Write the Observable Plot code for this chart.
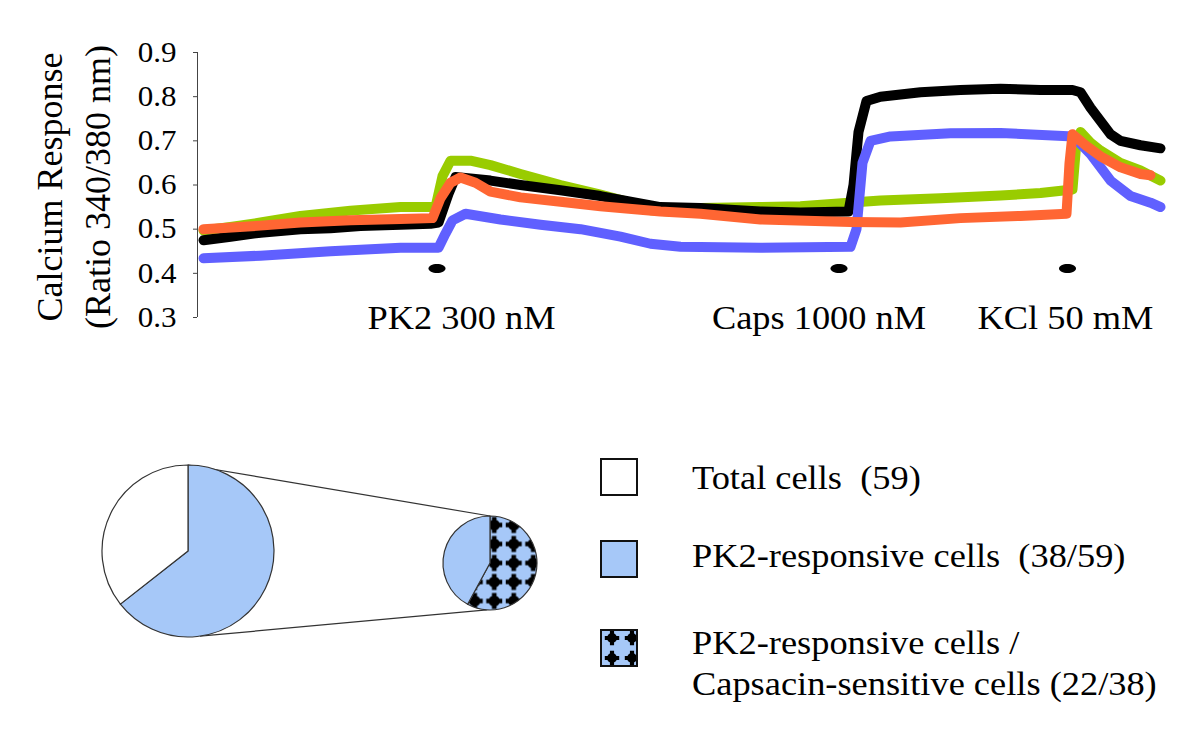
<!DOCTYPE html>
<html>
<head>
<meta charset="utf-8">
<script src="https://cdn.jsdelivr.net/npm/d3@7"></script>
<script src="https://cdn.jsdelivr.net/npm/@observablehq/plot@0.6"></script>
<style>
  body { margin: 0; background: #fff; }
  #wrap { position: relative; width: 1200px; height: 752px; font-family: "Liberation Serif", "Times New Roman", serif; color: #000; overflow: hidden; }
  #top { position: absolute; left: 0; top: 0; }
  #pies { position: absolute; left: 0; top: 352px; }
  .sw { position: absolute; left: 600px; width: 38px; height: 38px; }
  .lt { position: absolute; left: 692px; font-size: 34px; line-height: 41px; white-space: pre; transform: scaleX(1.07); transform-origin: 0 0; }
</style>
</head>
<body>
<div id="wrap">
  <div id="top"></div>
  <div id="pies"></div>
  <div id="legend"></div>
</div>
<script>
// ---------- Calcium traces (time in arbitrary units, ratio 340/380) ----------
const seriesOrder = ["PK2 + Caps responsive (green)", "Cell A (black)", "Cell B (blue)", "Cell C (orange)"];

const greenTime  = [6,33,63,103,153,203,238,245,253,273,293,323,363,403,433,453,473,503,563,603,651,683,743,803,843,875,879,883,893,903,923,943,963];
const greenValue = [0.497,0.505,0.515,0.53,0.542,0.55,0.55,0.62,0.655,0.655,0.645,0.625,0.60,0.578,0.56,0.543,0.54,0.548,0.55,0.552,0.56,0.565,0.57,0.576,0.582,0.59,0.70,0.72,0.696,0.678,0.65,0.633,0.61];

const blackTime  = [6,33,63,103,133,163,203,233,241,251,258,273,293,323,363,403,433,463,503,563,603,651,656,661,669,683,723,763,803,843,875,883,893,903,913,923,943,963];
const blackValue = [0.475,0.483,0.492,0.50,0.502,0.507,0.51,0.512,0.515,0.58,0.618,0.615,0.61,0.60,0.588,0.575,0.562,0.55,0.548,0.54,0.538,0.54,0.60,0.72,0.79,0.80,0.81,0.815,0.818,0.815,0.815,0.81,0.775,0.745,0.715,0.70,0.69,0.683];

const blueTime  = [6,63,133,203,241,248,255,268,303,343,383,423,453,483,563,653,659,665,673,693,753,803,876,893,913,933,953,963];
const blueValue = [0.434,0.44,0.45,0.458,0.458,0.49,0.52,0.535,0.522,0.51,0.50,0.483,0.467,0.46,0.458,0.46,0.50,0.65,0.70,0.71,0.717,0.718,0.71,0.67,0.61,0.575,0.56,0.55];

const orangeTime  = [6,63,103,153,203,235,243,253,263,278,293,323,363,403,463,503,563,653,703,763,823,869,872,875,888,903,923,943,953];
const orangeValue = [0.50,0.508,0.515,0.52,0.523,0.525,0.57,0.605,0.617,0.605,0.585,0.572,0.562,0.552,0.54,0.535,0.522,0.516,0.515,0.525,0.53,0.535,0.65,0.715,0.69,0.665,0.64,0.625,0.622];

const yTicks = [0.3, 0.4, 0.5, 0.6, 0.7, 0.8, 0.9];
const yTitleLines = ["Calcium Response", "(Ratio 340/380 nm)"];

const eventLabels = ["PK2 300 nM", "Caps 1000 nM", "KCl 50 mM"];
const eventTime   = [239.5, 641.5, 870];

// ---------- Pie-of-pie counts ----------
const pieCategories = ["PK2-responsive cells", "Non-responsive cells"];
const pieCounts     = [38, 21];
const subCategories = ["Capsacin-sensitive cells", "Capsacin-insensitive cells"];
const subCounts     = [22, 16];
const legendLabels  = ["Total cells  (59)", "PK2-responsive cells  (38/59)", "PK2-responsive cells /\nCapsacin-sensitive cells (22/38)"];

// ---------- styles ----------
const SERIF = "Liberation Serif, Times New Roman, serif";
const colorRange = ["#99cc00", "#000000", "#6060ff", "#ff6633"];
const PALE = "#a6c8f8";
const crossPath = "M5.6,0A5.6,5.6 0 1 1 -5.6,0A5.6,5.6 0 1 1 5.6,0Z M-2.3,-8H2.3V8H-2.3Z M-8,-2.3H8V2.3H-8Z";
const STRETCH = 1.07;

const traces = [];
[[greenTime, greenValue], [blackTime, blackValue], [blueTime, blueValue], [orangeTime, orangeValue]].forEach(([T, V], i) => {
  T.forEach((t, j) => traces.push({series: seriesOrder[i], t, v: V[j]}));
});
const events = eventLabels.map((label, i) => ({label, t: eventTime[i]}));
const labelDx = [24.5, -20, -2];

const ellipseSymbol = {
  draw(ctx) {
    const rx = 8.5, ry = 4.5, k = 0.5523;
    ctx.moveTo(rx, 0);
    ctx.bezierCurveTo(rx, ry * k, rx * k, ry, 0, ry);
    ctx.bezierCurveTo(-rx * k, ry, -rx, ry * k, -rx, 0);
    ctx.bezierCurveTo(-rx, -ry * k, -rx * k, -ry, 0, -ry);
    ctx.bezierCurveTo(rx * k, -ry, rx, -ry * k, rx, 0);
    ctx.closePath();
  }
};

const topChart = Plot.plot({
  width: 1200,
  height: 352,
  marginLeft: 197,
  marginRight: 40,
  marginTop: 52,
  marginBottom: 35,
  style: {fontFamily: SERIF, fontSize: "29px", color: "#000", background: "#fff", overflow: "visible"},
  x: {domain: [0, 963], axis: null},
  y: {domain: [0.3, 0.9]},
  color: {domain: seriesOrder, range: colorRange},
  marks: [
    Plot.axisY(yTicks, {tickSize: 4, tickPadding: 17, tickFormat: d3.format(".1f"), label: null, stroke: "#444", fontSize: 29, fill: "#000"}),
    Plot.ruleX([0], {y1: 0.3, y2: 0.9, stroke: "#444", strokeWidth: 1}),
    Plot.line(traces, {x: "t", y: "v", z: "series", stroke: "series", strokeWidth: 10, strokeLinecap: "round", strokeLinejoin: "round"}),
    Plot.dot(events, {x: "t", frameAnchor: "bottom", dy: -49, symbol: ellipseSymbol, fill: "#000", stroke: null}),
    ...events.map((e, i) => Plot.text([e], {x: "t", text: "label", frameAnchor: "bottom", lineAnchor: "bottom", dy: 11, dx: labelDx[i], fontSize: 34, fill: "#000"})),
    Plot.text([yTitleLines[0]], {frameAnchor: "left", textAnchor: "middle", rotate: -90, dx: -147, dy: 2, fontSize: 36, fill: "#000"}),
    Plot.text([yTitleLines[1]], {frameAnchor: "left", textAnchor: "middle", rotate: -90, dx: -99, dy: 2, fontSize: 36, fill: "#000"})
  ]
});
// the source figure is slightly wider than tall in its glyphs: widen horizontal texts a little
d3.select(topChart).selectAll("text").each(function () {
  const tr = this.getAttribute("transform") || "";
  if (!tr.includes("rotate")) this.setAttribute("transform", (tr + ` scale(${STRETCH},1)`).trim());
});
document.getElementById("top").append(topChart);

// ---------- Pie of pie ----------
const bigPie = pieCategories.map((c, i) => ({category: c, count: pieCounts[i]}));
const subPie = subCategories.map((c, i) => ({category: c, count: subCounts[i]}));
const bigFill = {"PK2-responsive cells": PALE, "Non-responsive cells": "#ffffff"};
const subFill = {"Capsacin-sensitive cells": "url(#crossPat)", "Capsacin-insensitive cells": PALE};

const pieChart = Plot.plot({
  width: 560,
  height: 400,
  margin: 0,
  style: {background: "transparent", overflow: "visible"},
  marks: [
    () => {
      const g = d3.create("svg:g");
      const pat = g.append("defs").append("pattern")
        .attr("id", "crossPat").attr("patternUnits", "userSpaceOnUse")
        .attr("width", 19.5).attr("height", 19).attr("x", 14).attr("y", 9.5);
      pat.append("rect").attr("width", 19.5).attr("height", 19).attr("fill", PALE);
      pat.append("path").attr("transform", "translate(9.75,9.5)").attr("d", crossPath).attr("fill", "#000");

      const big = {cx: 188, cy: 199, r: 86};
      const sub = {cx: 490, cy: 211, r: 47};
      const pt = (p, a) => [p.cx + p.r * Math.sin(a), p.cy - p.r * Math.cos(a)];
      const connectors = [[pt(big, 0), pt(sub, 0)], [pt(big, 172 * Math.PI / 180), pt(sub, 184 * Math.PI / 180)]];
      g.selectAll("line.c").data(connectors).join("line")
        .attr("x1", d => d[0][0]).attr("y1", d => d[0][1])
        .attr("x2", d => d[1][0]).attr("y2", d => d[1][1])
        .attr("stroke", "#333").attr("stroke-width", 1.2);

      const pie = d3.pie().sort(null).value(d => d.count);
      const draw = (p, data, fills) => {
        const arc = d3.arc().innerRadius(0).outerRadius(p.r);
        g.append("g").attr("transform", `translate(${p.cx},${p.cy})`)
          .selectAll("path").data(pie(data)).join("path")
          .attr("d", arc).attr("fill", d => fills[d.data.category])
          .attr("stroke", "#333").attr("stroke-width", 1.2).attr("stroke-linejoin", "round");
      };
      draw(big, bigPie, bigFill);
      draw(sub, subPie, subFill);
      return g.node();
    }
  ]
});
document.getElementById("pies").append(pieChart);

// ---------- Legend ----------
const legend = document.getElementById("legend");
const swatchTops = [458, 540, 629];
const textTops = [457, 535, 622];
const swatchFills = ["#ffffff", PALE, "url(#legPat)"];
legendLabels.forEach((label, i) => {
  const sw = d3.create("svg").attr("class", "sw").attr("width", 38).attr("height", 38)
    .style("top", swatchTops[i] + "px");
  if (i === 2) {
    const p = sw.append("defs").append("pattern").attr("id", "legPat").attr("patternUnits", "userSpaceOnUse")
      .attr("width", 20).attr("height", 20).attr("x", 2).attr("y", -1);
    p.append("rect").attr("width", 20).attr("height", 20).attr("fill", PALE);
    p.append("path").attr("transform", "translate(10,10) scale(0.9)").attr("d", crossPath).attr("fill", "#000");
  }
  sw.append("rect").attr("x", 1).attr("y", 1).attr("width", 36).attr("height", 36)
    .attr("fill", swatchFills[i]).attr("stroke", "#111").attr("stroke-width", 2);
  legend.append(sw.node());
  const t = document.createElement("div");
  t.className = "lt";
  t.style.top = textTops[i] + "px";
  t.textContent = label;
  legend.append(t);
});
</script>
</body>
</html>
